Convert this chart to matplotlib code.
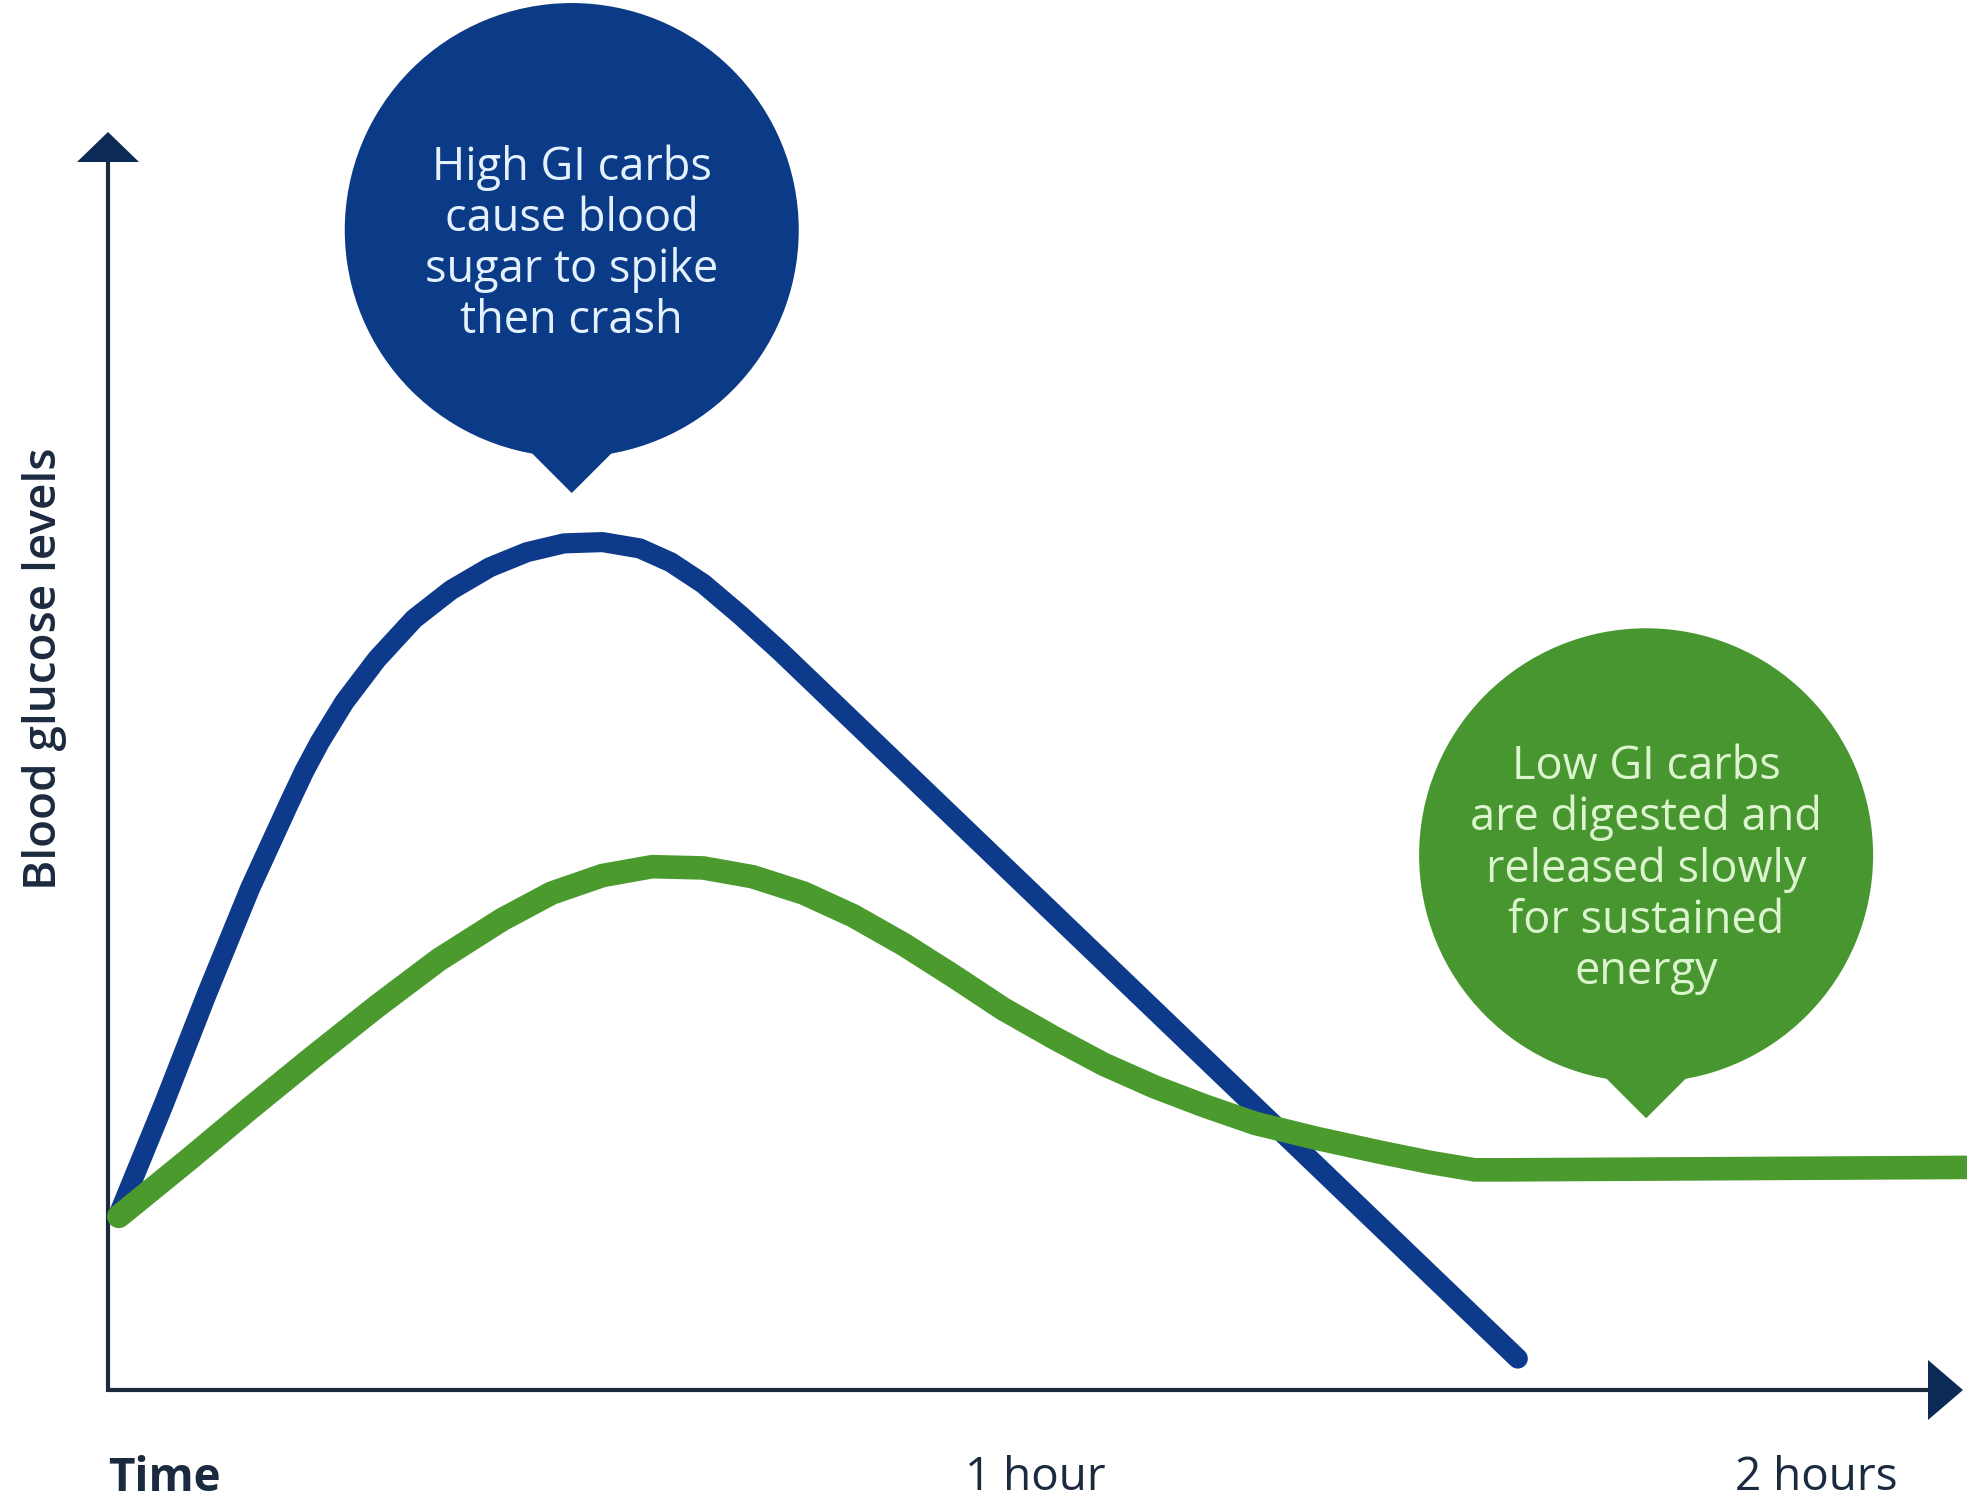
import matplotlib.pyplot as plt
from matplotlib.patches import Circle, Polygon
from matplotlib.transforms import ScaledTranslation

# minutes after eating -> relative blood glucose level
high_gi_t = [0.7, 3.6, 6.4, 9.2, 11.7, 12.7, 13.7, 15.3, 17.4, 19.8, 22.2, 24.7, 27.1,
             29.5, 32.0, 34.4, 36.4, 38.5, 40.9, 43.5, 91.2]
high_gi_level = [14.0, 22.7, 31.5, 39.9, 46.6, 49.2, 51.5, 54.7, 58.1, 61.3, 63.6, 65.4, 66.6,
                 67.3, 67.4, 66.9, 65.8, 64.1, 61.6, 58.7, 2.5]

low_gi_t = [0.7, 5.2, 9.2, 13.3, 17.4, 21.4, 25.5, 28.7, 32.0, 35.2, 38.5, 41.7,
            45.0, 48.2, 51.5, 54.7, 57.9, 61.2, 64.4, 67.7, 70.9, 74.2, 78.2, 82.3,
            85.5, 88.4, 90.4, 121.0]
low_gi_level = [13.8, 18.3, 22.4, 26.5, 30.5, 34.2, 37.4, 39.5, 40.9, 41.6, 41.5, 40.8,
                39.5, 37.7, 35.4, 32.9, 30.3, 28.0, 25.9, 24.1, 22.6, 21.2, 20.0, 18.9,
                18.1, 17.5, 17.5, 17.7]

high_gi_note = "High GI carbs\ncause blood\nsugar to spike\nthen crash"
low_gi_note = "Low GI carbs\nare digested and\nreleased slowly\nfor sustained\nenergy"

time_labels = ["Time", "1 hour", "2 hours"]
time_label_pos = [0, 60, 110.5]
y_label = "Blood glucose levels"

NAVY = "#1b2a3f"
BLUE = "#0d3a8a"
GREEN = "#4a9a2e"

plt.rcParams['font.family'] = ['Open Sans', 'DejaVu Sans']

fig = plt.figure(figsize=(19.67, 15.04), dpi=100)
ax = fig.add_axes([108 / 1967, 114 / 1504, 1855 / 1967, 1258 / 1504])
ax.set_xlim(0, 120)
ax.set_ylim(0, 100)
ax.axis('off')


def at(x, y):
    # inch offsets around a data point
    return fig.dpi_scale_trans + ScaledTranslation(x, y, ax.transData)


# axes with arrow heads
ax.plot([0, 0, 118], [98, 0, 0], color=NAVY, lw=3, solid_joinstyle='miter',
        clip_on=False, zorder=2)
ax.add_patch(Polygon([(0, 0), (-0.31, -0.30), (0.31, -0.30)], closed=True,
                     facecolor="#0b2a55", edgecolor='none', transform=at(0, 100),
                     clip_on=False, zorder=2))
ax.add_patch(Polygon([(0, 0), (-0.35, 0.30), (-0.35, -0.30)], closed=True,
                     facecolor="#0b2a55", edgecolor='none', transform=at(120, 0),
                     clip_on=False, zorder=2))

# glucose curves
ax.plot(high_gi_t, high_gi_level, color=BLUE, lw=14.5, solid_capstyle='round',
        solid_joinstyle='round', clip_on=False, zorder=3)
ax.plot(low_gi_t, low_gi_level, color=GREEN, lw=17, solid_capstyle='round',
        solid_joinstyle='round', clip_on=False, zorder=4)


def bubble(x, y, text, face, txt_color):
    tr = at(x, y)
    c, r = 2.63, 2.27
    ys = c - (r ** 2 - 1.0) ** 0.5
    ax.add_patch(Circle((0, c), r, facecolor=face, edgecolor='none', transform=tr,
                        clip_on=False, zorder=5))
    ax.add_patch(Polygon([(0, 0), (ys, ys), (1.0, ys), (1.0, 1.3), (-1.0, 1.3),
                          (-1.0, ys), (-ys, ys)], closed=True, facecolor=face,
                         edgecolor='none', transform=tr, clip_on=False, zorder=5))
    ax.text(0, 2.49, text, transform=tr, ha='center', va='center', fontsize=32.5,
            color=txt_color, linespacing=1.14, zorder=6)


bubble(30.0, 71.3, high_gi_note, "#0b3a86", "#e4f2ff")
bubble(99.5, 21.6, low_gi_note, "#47962f", "#dcf5cf")

# axis labels
for pos, lab in zip(time_label_pos, time_labels):
    if lab == "Time":
        ax.text(pos, -7.0, lab, ha='left', va='center', fontsize=33,
                fontweight='bold', color=NAVY, clip_on=False)
    else:
        ax.text(pos, -7.0, lab, ha='center', va='center', fontsize=33,
                color=NAVY, clip_on=False)

ax.text(-4.1, 57.3, y_label, rotation=90, ha='center', va='center', fontsize=33,
        fontweight='semibold', color=NAVY, clip_on=False)

fig.savefig("out.png", dpi=100, facecolor='white')
